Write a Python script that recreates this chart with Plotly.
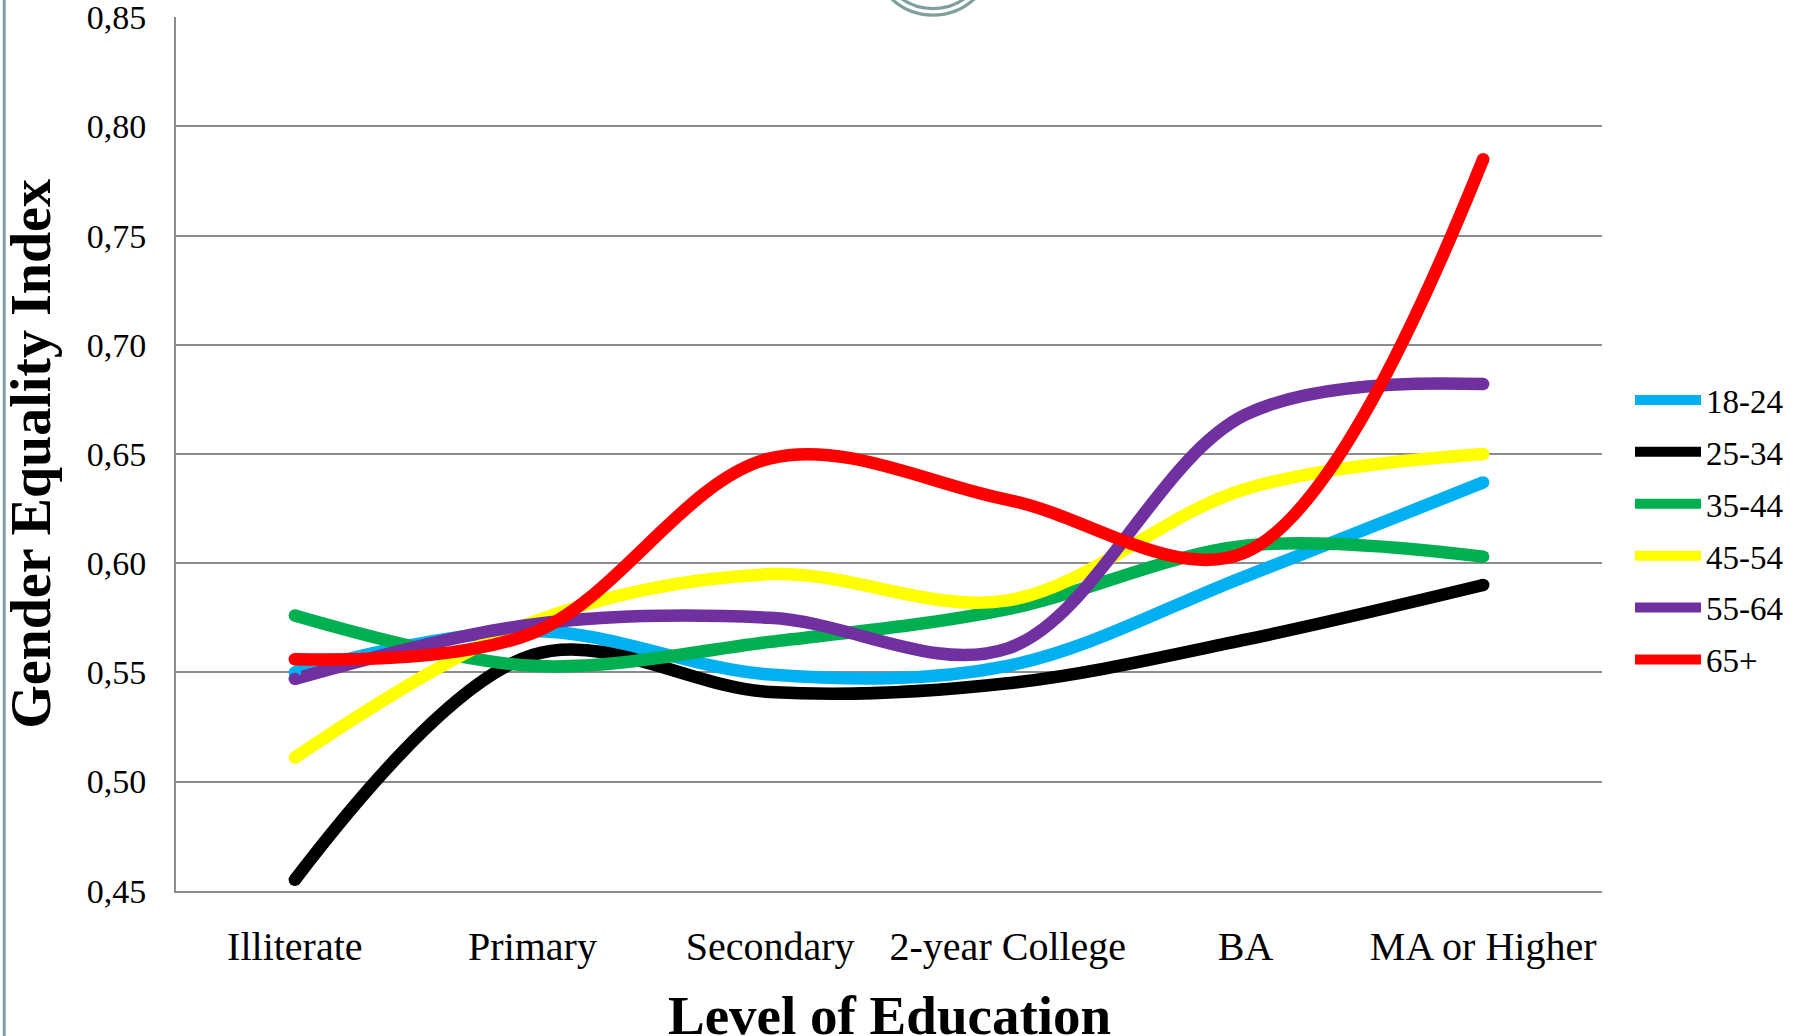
import plotly.graph_objects as go

categories = ["Illiterate", "Primary", "Secondary", "2-year College", "BA", "MA or Higher"]

series_names = ["18-24", "25-34", "35-44", "45-54", "55-64", "65+"]
v_18_24 = [0.550, 0.569, 0.549, 0.553, 0.594, 0.637]
v_25_34 = [0.455, 0.558, 0.541, 0.545, 0.565, 0.590]
v_35_44 = [0.576, 0.553, 0.564, 0.579, 0.608, 0.603]
v_45_54 = [0.511, 0.573, 0.595, 0.583, 0.634, 0.650]
v_55_64 = [0.547, 0.572, 0.575, 0.561, 0.668, 0.682]
v_65_plus = [0.556, 0.568, 0.648, 0.629, 0.605, 0.785]
series_values = [v_18_24, v_25_34, v_35_44, v_45_54, v_55_64, v_65_plus]
colors = ["#00B0F0", "#000000", "#00B050", "#FFFF00", "#7030A0", "#FF0000"]

y_ticks = [0.45, 0.50, 0.55, 0.60, 0.65, 0.70, 0.75, 0.80, 0.85]

x_title = "Level of Education"
y_title = "Gender Equality Index"

W, H = 1803, 1036
L, R, T, B = 176, 1602, 17, 891
FONT = "Liberation Serif"
GRID = "#8C8C8C"
DECO = "#7F9F9F"


def px_x(p):
    return (p - L) / (R - L)


def px_y(p):
    return (B - p) / (B - T)


fig = go.Figure()
LW = 12.5
for name, vals, col in zip(series_names, series_values, colors):
    fig.add_trace(go.Scatter(
        x=categories, y=vals, name=name, mode="lines",
        line=dict(color=col, width=LW, shape="spline", smoothing=1.0),
        legendgroup=name, hoverinfo="skip",
    ))
for name, vals, col in zip(series_names, series_values, colors):
    fig.add_trace(go.Scatter(
        x=[categories[0], categories[-1]], y=[vals[0], vals[-1]], mode="markers",
        marker=dict(color=col, size=LW, line=dict(width=0)),
        showlegend=False, legendgroup=name, hoverinfo="skip",
    ))

shapes = [
    dict(type="line", xref="paper", yref="paper",
         x0=px_x(4.2), x1=px_x(4.2), y0=px_y(-5), y1=px_y(H + 5),
         line=dict(color=DECO, width=3)),
    dict(type="circle", xref="paper", yref="paper",
         x0=px_x(933 - 60.8), x1=px_x(933 + 60.8), y0=px_y(-45.7 - 60.8), y1=px_y(-45.7 + 60.8),
         line=dict(color=DECO, width=3.2)),
    dict(type="circle", xref="paper", yref="paper",
         x0=px_x(933 - 54.3), x1=px_x(933 + 54.3), y0=px_y(-45.7 - 54.3), y1=px_y(-45.7 + 54.3),
         line=dict(color=DECO, width=3.2)),
]

annotations = [
    dict(text="<b>" + x_title + "</b>", xref="paper", yref="paper",
         x=0.5, y=px_y(1015), xanchor="center", yanchor="middle", showarrow=False,
         font=dict(family=FONT, size=55, color="black")),
]

fig.update_layout(
    width=W, height=H,
    margin=dict(l=L, r=W - R, t=T, b=H - B, pad=0),
    paper_bgcolor="white", plot_bgcolor="white",
    separators=",.",
    font=dict(family=FONT, color="black"),
    showlegend=True,
    legend=dict(
        x=px_x(1630), xanchor="left", y=px_y(530), yanchor="middle",
        font=dict(family=FONT, size=33, color="black"),
        itemwidth=66, tracegroupgap=6, bgcolor="rgba(0,0,0,0)",
        traceorder="grouped",
    ),
    shapes=shapes,
    annotations=annotations,
    hovermode=False,
)

fig.update_xaxes(
    type="category", categoryorder="array", categoryarray=categories,
    range=[-0.5, 5.5], showgrid=False, showline=True, linecolor=GRID, linewidth=2,
    ticks="", tickfont=dict(family=FONT, size=40, color="black"),
    ticklabelstandoff=19, automargin=False,
)
fig.update_yaxes(
    range=[0.4499, 0.8501], tickvals=y_ticks, tickformat=".2f",
    showgrid=True, gridcolor=GRID, gridwidth=2,
    showline=True, linecolor=GRID, linewidth=2, zeroline=False,
    ticks="", tickfont=dict(family=FONT, size=34, color="black"),
    ticklabelstandoff=21, automargin=False, ticklabeloverflow="allow",
    title=dict(text="<b>" + y_title + "</b>", font=dict(family=FONT, size=56, color="black"), standoff=21),
)

fig.write_html(
    "out.html",
    config={"displayModeBar": False, "staticPlot": True},
    post_script="document.body.style.margin='0';document.body.style.padding='0';",
)
